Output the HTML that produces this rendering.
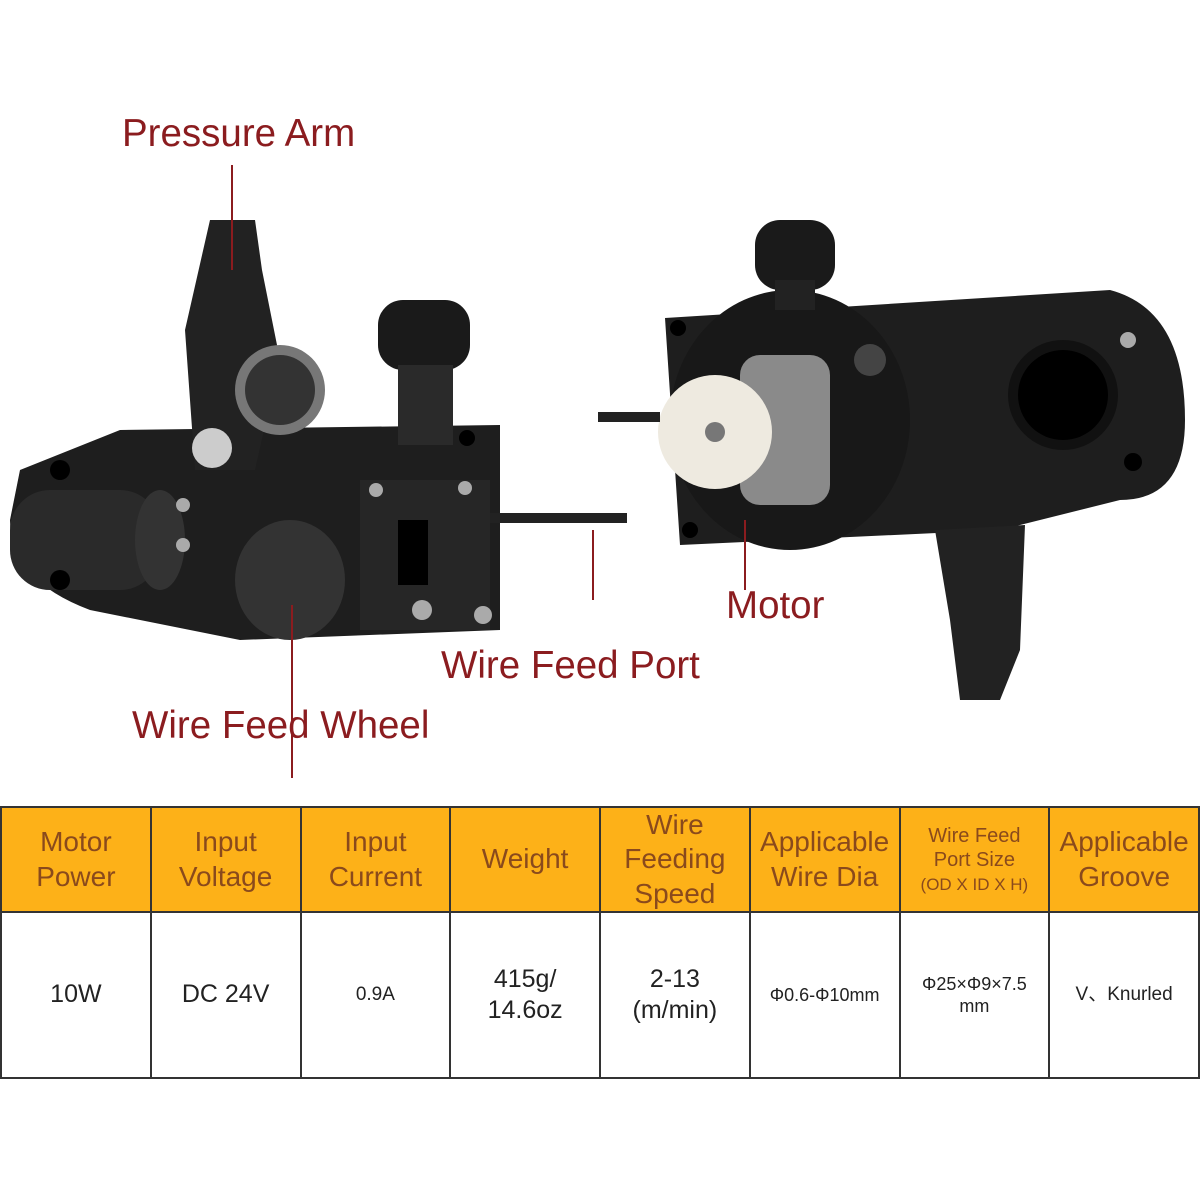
<!DOCTYPE html>
<html><head><meta charset="utf-8"><style>
body{margin:0;background:#fff;width:1200px;height:1200px;overflow:hidden;font-family:"Liberation Sans",sans-serif}
.l{position:absolute;color:#8b1c1f;font-size:38.5px;white-space:nowrap}
table{position:absolute;left:0;top:806px;width:1200px;border-collapse:collapse;table-layout:fixed}
td{border:2px solid #333;text-align:center;padding:0;line-height:1.25}
tr.h td{background:#fdb118;color:#8a4a1c;font-size:28px;height:103px;line-height:1.22}
tr.d td{height:164px;font-size:25px;color:#222}
</style></head><body>
<svg width="1200" height="800" style="position:absolute;left:0;top:0">
<path d="M20 470 L120 430 L500 425 L500 630 L240 640 L90 610 Q10 580 10 520 Z" fill="#1e1e1e"/>
<rect x="10" y="490" width="150" height="100" rx="40" fill="#2a2a2a"/>
<ellipse cx="160" cy="540" rx="25" ry="50" fill="#333"/>
<path d="M210 220 L255 220 L262 270 L280 360 L255 470 L195 470 L185 330 Z" fill="#222"/>
<circle cx="280" cy="390" r="45" fill="#777"/><circle cx="280" cy="390" r="35" fill="#333"/>
<circle cx="212" cy="448" r="20" fill="#ccc"/>
<rect x="378" y="300" width="92" height="70" rx="25" fill="#1a1a1a"/>
<rect x="398" y="365" width="55" height="80" fill="#2a2a2a"/>
<rect x="360" y="480" width="130" height="150" fill="#262626"/>
<rect x="398" y="520" width="30" height="65" fill="#000"/>
<ellipse cx="290" cy="580" rx="55" ry="60" fill="#333"/>
<rect x="490" y="513" width="137" height="10" fill="#222"/>
<g fill="#aaa"><circle cx="183" cy="505" r="7"/><circle cx="183" cy="545" r="7"/><circle cx="376" cy="490" r="7"/><circle cx="465" cy="488" r="7"/><circle cx="422" cy="610" r="10"/><circle cx="483" cy="615" r="9"/></g>
<g fill="#000"><circle cx="60" cy="470" r="10"/><circle cx="60" cy="580" r="10"/><circle cx="467" cy="438" r="8"/></g>
<path d="M665 318 L1110 290 Q1185 310 1185 420 Q1185 500 1120 500 L1000 530 L680 545 Z" fill="#1e1e1e"/>
<ellipse cx="790" cy="420" rx="120" ry="130" fill="#181818"/>
<circle cx="1063" cy="395" r="55" fill="#111"/><circle cx="1063" cy="395" r="45" fill="#000"/>
<rect x="755" y="220" width="80" height="70" rx="25" fill="#1a1a1a"/>
<rect x="775" y="280" width="40" height="30" fill="#222"/>
<rect x="740" y="355" width="90" height="150" rx="20" fill="#8a8a8a"/>
<circle cx="715" cy="432" r="57" fill="#eeeae0"/>
<circle cx="715" cy="432" r="10" fill="#777"/>
<rect x="598" y="412" width="62" height="10" fill="#222"/>
<circle cx="870" cy="360" r="16" fill="#444"/>
<path d="M935 530 L1025 525 L1020 650 L1000 700 L960 700 L950 620 Z" fill="#222"/>
<g fill="#000"><circle cx="678" cy="328" r="8"/><circle cx="690" cy="530" r="8"/><circle cx="1133" cy="462" r="9"/></g>
<circle cx="1128" cy="340" r="8" fill="#aaa"/>
<g stroke="#8b1c1f" stroke-width="2"><line x1="232" y1="165" x2="232" y2="270"/><line x1="292" y1="605" x2="292" y2="778"/><line x1="593" y1="530" x2="593" y2="600"/><line x1="745" y1="520" x2="745" y2="590"/></g>
</svg>
<div class="l" style="left:122px;top:112px">Pressure Arm</div>
<div class="l" style="left:441px;top:644px">Wire Feed Port</div>
<div class="l" style="left:726px;top:584px">Motor</div>
<div class="l" style="left:132px;top:704px">Wire Feed Wheel</div>
<table>
<tr class="h"><td>Motor<br>Power</td><td>Input<br>Voltage</td><td>Input<br>Current</td><td>Weight</td><td>Wire<br>Feeding<br>Speed</td><td>Applicable<br>Wire Dia</td><td style="font-size:20px;line-height:1.2">Wire Feed<br>Port Size<br><span style="font-size:17px">(OD X ID X H)</span></td><td>Applicable<br>Groove</td></tr>
<tr class="d"><td>10W</td><td>DC 24V</td><td style="font-size:19px">0.9A</td><td>415g/<br>14.6oz</td><td>2-13<br>(m/min)</td><td style="font-size:18px">Φ0.6-Φ10mm</td><td style="font-size:18px">Φ25×Φ9×7.5<br>mm</td><td style="font-size:19px">V、Knurled</td></tr>
</table>
</body></html>
